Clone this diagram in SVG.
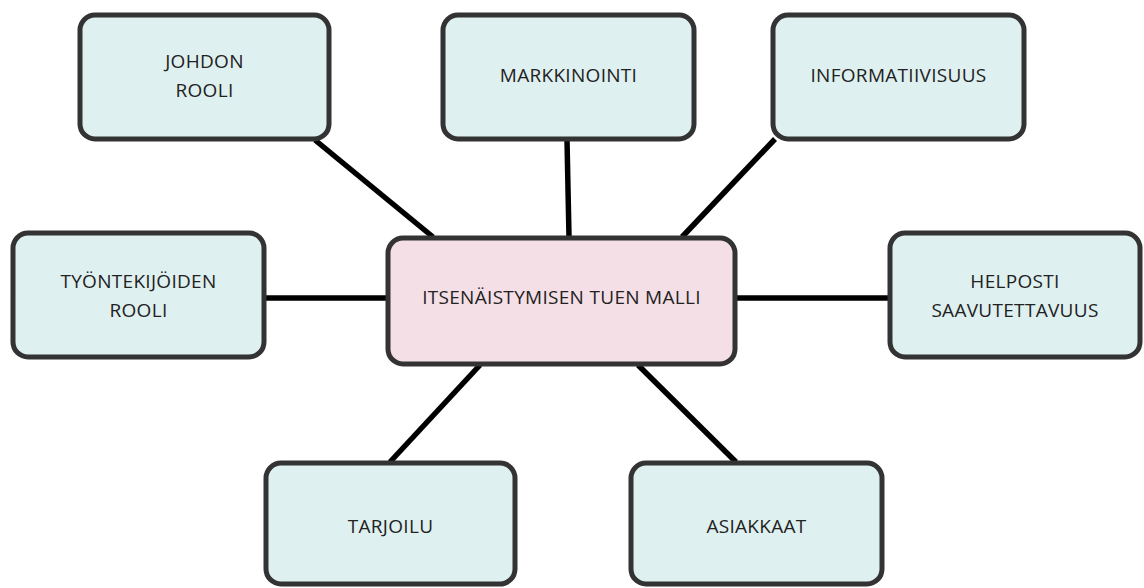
<svg xmlns="http://www.w3.org/2000/svg" width="1144" height="588" viewBox="0 0 1144 588">
<style>
.box{fill:#dff0f0;stroke:#333;stroke-width:5}
.ctr{fill:#f5dfe6;stroke:#333;stroke-width:5}
.lbl{font-family:"Open Sans","Liberation Sans",sans-serif;font-size:19px;letter-spacing:0.3px;fill:#222;text-anchor:middle}
#connectors line{stroke:#000;stroke-width:5.5}
</style>
<rect width="1144" height="588" fill="#fff"/>
<g id="connectors">
<line x1="315" y1="140" x2="433" y2="237"/>
<line x1="567" y1="140" x2="569" y2="237"/>
<line x1="775" y1="139" x2="682" y2="237"/>
<line x1="265" y1="298" x2="388" y2="298"/>
<line x1="735" y1="298" x2="890" y2="298"/>
<line x1="480" y1="365" x2="390" y2="462"/>
<line x1="638" y1="365" x2="736" y2="462"/>
</g>
<g id="n-johdon"><rect class="box" x="80" y="15" width="249" height="124" rx="15"/><text class="lbl" x="204.5" y="68">JOHDON</text><text class="lbl" x="204.5" y="97">ROOLI</text></g>
<g id="n-markkinointi"><rect class="box" x="443" y="15" width="251" height="124" rx="15"/><text class="lbl" x="568.5" y="82">MARKKINOINTI</text></g>
<g id="n-informatiivisuus"><rect class="box" x="773" y="15" width="251" height="124" rx="15"/><text class="lbl" x="898.5" y="82">INFORMATIIVISUUS</text></g>
<g id="n-tyontekijoiden"><rect class="box" x="13" y="233" width="251" height="124" rx="15"/><text class="lbl" x="138.5" y="288">TYÖNTEKIJÖIDEN</text><text class="lbl" x="138.5" y="317">ROOLI</text></g>
<g id="n-center"><rect class="ctr" x="388" y="238" width="347" height="126" rx="15"/><text class="lbl" x="561.5" y="304">ITSENÄISTYMISEN TUEN MALLI</text></g>
<g id="n-helposti"><rect class="box" x="890" y="233" width="250" height="124" rx="15"/><text class="lbl" x="1015" y="288">HELPOSTI</text><text class="lbl" x="1015" y="317">SAAVUTETTAVUUS</text></g>
<g id="n-tarjoilu"><rect class="box" x="266" y="463" width="249" height="121" rx="15"/><text class="lbl" x="390.5" y="533">TARJOILU</text></g>
<g id="n-asiakkaat"><rect class="box" x="631" y="463" width="251" height="121" rx="15"/><text class="lbl" x="756.5" y="533">ASIAKKAAT</text></g>
</svg>
